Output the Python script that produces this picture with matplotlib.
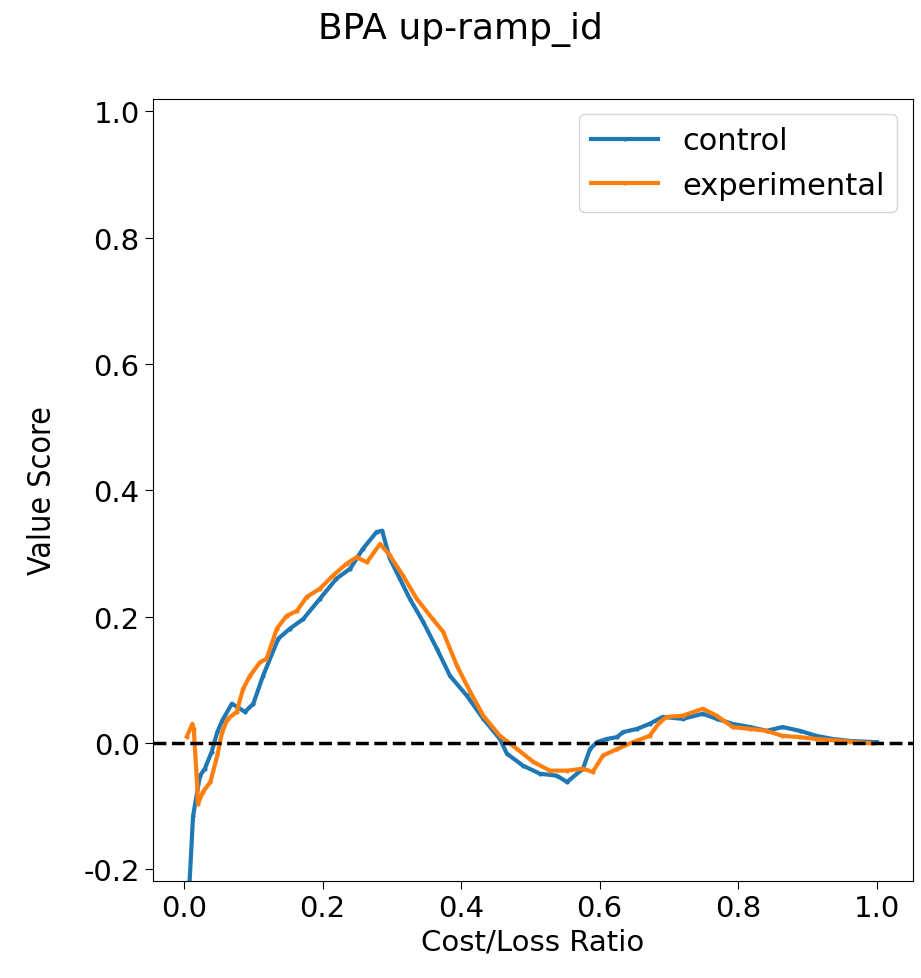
import matplotlib
matplotlib.use("Agg")
import matplotlib.pyplot as plt

# values (cost/loss ratio, value score)
control_x = [0.005, 0.007, 0.013, 0.023, 0.030, 0.040, 0.048, 0.055, 0.069, 0.088,
             0.100, 0.114, 0.136, 0.153, 0.172, 0.196, 0.220, 0.240, 0.258, 0.278,
             0.286, 0.297, 0.326, 0.345, 0.365, 0.384, 0.408, 0.432, 0.456, 0.466,
             0.489, 0.514, 0.538, 0.553, 0.576, 0.586, 0.596, 0.610, 0.625, 0.634,
             0.654, 0.672, 0.691, 0.720, 0.749, 0.769, 0.792, 0.817, 0.841, 0.864,
             0.889, 0.913, 0.937, 0.961, 1.000]
control_y = [-0.45, -0.24, -0.116, -0.052, -0.041, -0.014, 0.017, 0.035, 0.062, 0.049,
             0.062, 0.106, 0.165, 0.181, 0.196, 0.228, 0.260, 0.276, 0.307, 0.334,
             0.336, 0.292, 0.228, 0.192, 0.149, 0.106, 0.075, 0.038, 0.006, -0.017,
             -0.036, -0.049, -0.052, -0.062, -0.041, -0.010, 0.001, 0.006, 0.009, 0.017,
             0.022, 0.030, 0.041, 0.038, 0.046, 0.038, 0.030, 0.025, 0.019, 0.025,
             0.019, 0.011, 0.006, 0.003, 0.001]

exp_x = [0.004, 0.012, 0.014, 0.019, 0.020, 0.027, 0.038, 0.048, 0.055, 0.063,
         0.076, 0.085, 0.095, 0.110, 0.119, 0.134, 0.148, 0.163, 0.177, 0.196,
         0.215, 0.235, 0.249, 0.264, 0.283, 0.297, 0.316, 0.336, 0.359, 0.374,
         0.394, 0.413, 0.432, 0.456, 0.481, 0.504, 0.528, 0.553, 0.576, 0.590,
         0.605, 0.625, 0.648, 0.672, 0.687, 0.697, 0.720, 0.749, 0.769, 0.792,
         0.817, 0.841, 0.864, 0.889, 0.913, 0.961, 0.994]
exp_y = [0.010, 0.030, 0.022, -0.068, -0.097, -0.078, -0.062, -0.020, 0.017, 0.038,
         0.049, 0.085, 0.106, 0.128, 0.133, 0.181, 0.201, 0.209, 0.231, 0.244,
         0.265, 0.284, 0.294, 0.286, 0.315, 0.297, 0.265, 0.228, 0.196, 0.176,
         0.122, 0.081, 0.043, 0.011, -0.010, -0.030, -0.044, -0.044, -0.041, -0.046,
         -0.020, -0.010, 0.001, 0.011, 0.033, 0.041, 0.043, 0.054, 0.043, 0.025,
         0.022, 0.019, 0.011, 0.009, 0.006, 0.002, -0.001]

plt.rcParams.update({"font.size": 21})

fig = plt.figure(figsize=(9.21, 9.79), dpi=100)
ax = fig.add_axes([0.166, 0.099, 0.825, 0.799])

ax.plot(control_x, control_y, color="#1f77b4", lw=3, marker=".", ms=4, label="control")
ax.plot(exp_x, exp_y, color="#ff7f0e", lw=3, marker=".", ms=4, label="experimental")
ax.axhline(0, color="k", ls="--", lw=2.5)

ax.set_xlim(-0.045, 1.052)
ax.set_ylim(-0.219, 1.02)
ax.set_xticks([0.0, 0.2, 0.4, 0.6, 0.8, 1.0])
ax.set_yticks([-0.2, 0.0, 0.2, 0.4, 0.6, 0.8, 1.0])
ax.set_yticklabels(["-0.2", "0.0", "0.2", "0.4", "0.6", "0.8", "1.0"])
ax.tick_params(labelsize=21, length=6)
ax.set_xlabel("Cost/Loss Ratio", fontsize=21, labelpad=4)
ax.set_ylabel("Value Score", fontsize=23, fontstretch="condensed", labelpad=18)
ax.legend(loc="upper right", fontsize=22, handlelength=2.2)
fig.suptitle("BPA up-ramp_id", y=0.988, fontsize=26)

fig.savefig("out.png", dpi=100)
